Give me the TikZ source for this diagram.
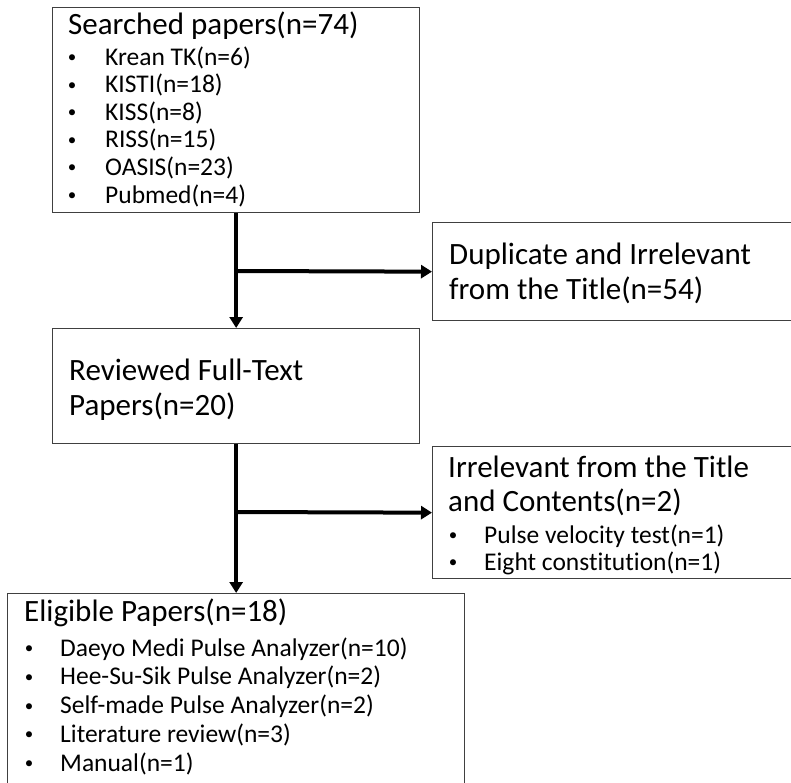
\documentclass[tikz,border=0pt]{standalone}
\usepackage{fontspec}
\setmainfont{Carlito}[Ligatures=NoCommon]
\usepackage{xcolor}
\definecolor{boxgray}{HTML}{404040}
\usetikzlibrary{arrows.meta,positioning}

\begin{document}
\begin{tikzpicture}[x=1pt, y=-1pt,
  box/.style={rectangle, draw=boxgray, line width=1.3pt, anchor=north west, inner sep=0pt},
  head/.style={anchor=base west, inner sep=0pt, font=\fontsize{31}{36}\selectfont},
  item/.style={anchor=base west, inner sep=0pt, font=\fontsize{25.5}{30}\selectfont},
  dot/.style={anchor=base, inner sep=0pt, yshift=2.5pt, font=\fontsize{17}{20}\selectfont},
  arrow/.style={-{Triangle[length=11pt,width=13pt]}, line width=4pt}
]
\useasboundingbox (0,0) rectangle (791,782);

% Searched papers
\node[box, minimum width=367pt, minimum height=205pt] (searched) at (52,7) {};
\node[head] (searchedtitle) at (68,34) {Searched papers(n=74)};
\foreach \txt [count=\i] in {Krean TK(n=6), KISTI(n=18), KISS(n=8), RISS(n=15), OASIS(n=23), Pubmed(n=4)} {
  \node[dot] (searcheddot\i) at (72,{65+27.6*(\i-1)}) {\textbullet};
  \node[item] (searcheditem\i) at (105,{65+27.6*(\i-1)}) {\txt};
}

% Duplicate
\node[box, minimum width=365pt, minimum height=98pt] (duplicate) at (432,222) {};
\node[head] (duplicate1) at (449,264) {Duplicate and Irrelevant};
\node[head] (duplicate2) at (449,299) {from the Title(n=54)};

% Reviewed
\node[box, minimum width=367pt, minimum height=115pt] (reviewed) at (52,328) {};
\node[head] (reviewed1) at (69,380) {Reviewed Full-Text};
\node[head] (reviewed2) at (69,415) {Papers(n=20)};

% Irrelevant
\node[box, minimum width=365pt, minimum height=132pt] (irrelevant) at (432,446) {};
\node[head] (irrelevant1) at (448,477) {Irrelevant from the Title};
\node[head] (irrelevant2) at (448,511) {and Contents(n=2)};
\foreach \txt [count=\i] in {Pulse velocity test(n=1), Eight constitution(n=1)} {
  \node[dot] (irrelevantdot\i) at (453,{543+27*(\i-1)}) {\textbullet};
  \node[item] (irrelevantitem\i) at (484,{543+27*(\i-1)}) {\txt};
}

% Eligible
\node[box, minimum width=457pt, minimum height=200pt] (eligible) at (7,593) {};
\node[head] (eligibletitle) at (24,621) {Eligible Papers(n=18)};
\foreach \txt [count=\i] in {Daeyo Medi Pulse Analyzer(n=10), Hee-Su-Sik Pulse Analyzer(n=2), Self-made Pulse Analyzer(n=2), Literature review(n=3), Manual(n=1)} {
  \node[dot] (eligibledot\i) at (29,{656+28.8*(\i-1)}) {\textbullet};
  \node[item] (eligibleitem\i) at (60,{656+28.8*(\i-1)}) {\txt};
}

% Connections
\coordinate (split1) at (235.5,271);
\coordinate (split2) at (235.5,512);
\draw[arrow] (searched.south) -- (reviewed.north);
\draw[arrow] (split1) -- (duplicate.west);
\draw[arrow] (reviewed.south) -- (eligible.north);
\draw[arrow] (split2) -- (irrelevant.west);

\end{tikzpicture}
\end{document}
